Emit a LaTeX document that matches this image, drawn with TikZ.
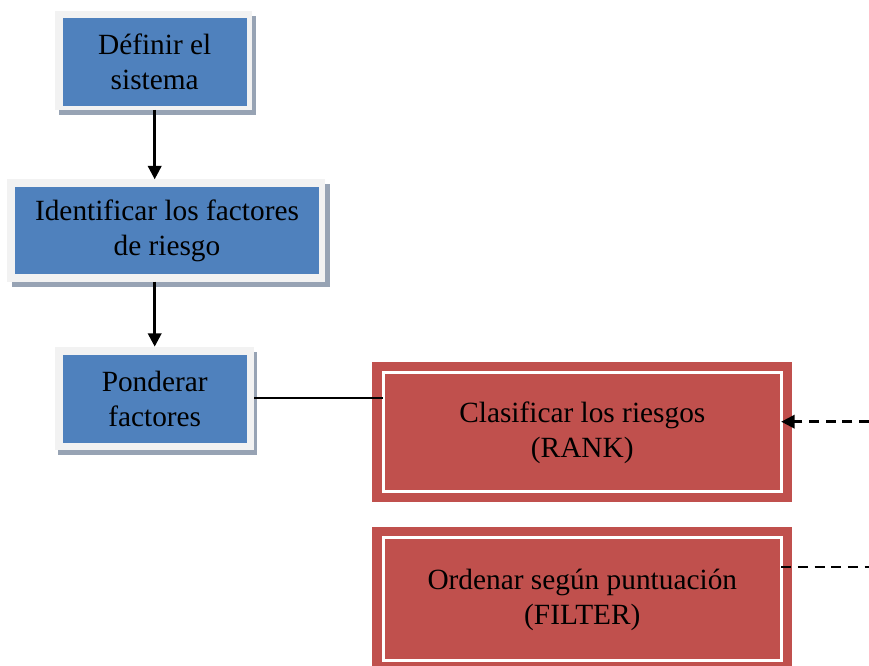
\documentclass[tikz,border=0pt]{standalone}
\usepackage{fontspec}
\setmainfont{Liberation Serif}
\usetikzlibrary{arrows.meta}

\definecolor{stepblue}{HTML}{4F81BD}
\definecolor{framegray}{HTML}{F2F2F2}
\definecolor{shadowgray}{HTML}{97A3B4}
\definecolor{riskred}{HTML}{C0504D}

% one drawing unit
\newcommand\pxu{0.75pt}

\begin{document}
\begin{tikzpicture}[x=0.75pt,y=-0.75pt,
  base/.style={inner sep=0pt, outer sep=0pt, anchor=center},
  stepframe/.style={base, fill=framegray},
  stepshadow/.style={base, fill=shadowgray},
  stepbox/.style={base, fill=stepblue, align=center,
    font=\fontsize{22pt}{26.25pt}\selectfont},
  riskouter/.style={base, fill=riskred},
  riskbox/.style={base, fill=riskred, draw=white, line width=3*\pxu, align=center,
    font=\fontsize{22pt}{26.25pt}\selectfont},
  tip/.style={-{Triangle[length=10pt, width=10pt]}},
  flow/.style={line width=2pt, tip},
  link/.style={line width=1.8pt},
  feed/.style={line width=1.8pt, dash pattern=on 7.5pt off 5pt},
]
\useasboundingbox (0,0) rectangle (869,666);

% --- blue process steps (shadow, light frame, coloured face) ---
\node[stepshadow, minimum width=197*\pxu, minimum height=99*\pxu] (def-shadow) at (157.5,65.5) {};
\node[stepframe, minimum width=197*\pxu, minimum height=99*\pxu] (def-frame) at (153.5,60.5) {};
\node[stepbox, minimum width=184*\pxu, minimum height=87.7*\pxu] (def) at (154.7,62.2) {Définir el\\sistema};

\node[stepshadow, minimum width=317.7*\pxu, minimum height=102.4*\pxu] (ident-shadow) at (171.2,235.5) {};
\node[stepframe, minimum width=317.7*\pxu, minimum height=102.4*\pxu] (ident-frame) at (166.2,230.5) {};
\node[stepbox, minimum width=304*\pxu, minimum height=87.6*\pxu] (ident) at (167,230.5) {Identificar los factores\\de riesgo};

\node[stepshadow, minimum width=199*\pxu, minimum height=103.3*\pxu] (pond-shadow) at (157.5,403.3) {};
\node[stepframe, minimum width=199*\pxu, minimum height=103.3*\pxu] (pond-frame) at (154.5,398.3) {};
\node[stepbox, minimum width=184*\pxu, minimum height=87.7*\pxu] (pond) at (154.7,398.8) {Ponderar\\factores};

% --- red result boxes ---
\node[riskouter, minimum width=420*\pxu, minimum height=140.6*\pxu] (clas-outer) at (582.3,432) {};
\node[riskbox, minimum width=397.9*\pxu, minimum height=118.7*\pxu] (clas) at (582.3,432.3) {Clasificar los riesgos\\(RANK)};

\node[riskouter, minimum width=420*\pxu, minimum height=140.6*\pxu] (filt-outer) at (582,597.7) {};
\node[riskbox, minimum width=397.9*\pxu, minimum height=123*\pxu] (filt) at (582.3,599.5) {Ordenar según puntuación\\(FILTER)};

% free ends of the dashed connectors at the right border
\coordinate (rank-in) at (869,421.7);
\coordinate (filter-out) at (869,566.7);

% --- connectors ---
\draw[flow] (def.south |- def-frame.south) -- (def.south |- ident-frame.north);
\draw[flow] (def.south |- ident-frame.south) -- (def.south |- pond-frame.north);
\draw[link] (pond-frame.east) -- (pond-frame.east -| clas.west);
\draw[feed, tip] (rank-in) -- (rank-in -| clas.east);
\draw[feed, line width=1.5pt] (filter-out -| filt.east) -- (filter-out);
\end{tikzpicture}
\end{document}
